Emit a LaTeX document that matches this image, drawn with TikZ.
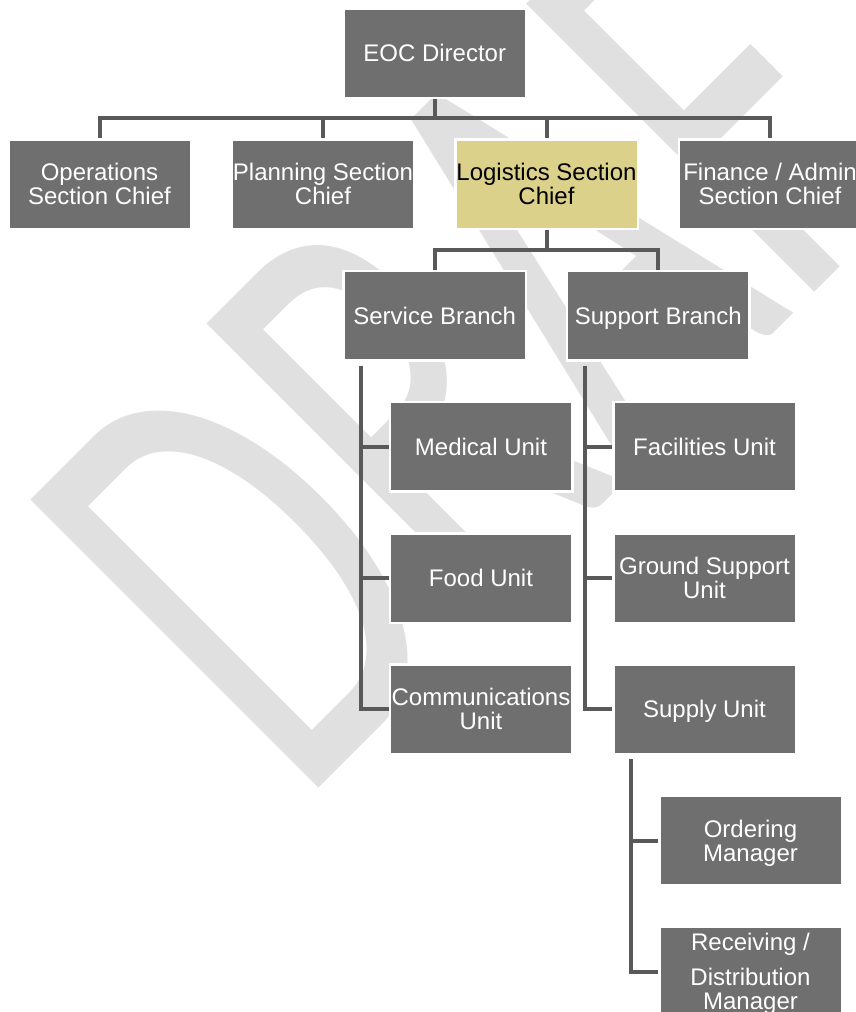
\documentclass[tikz,border=0pt]{standalone}
\usepackage{fontspec}
\setmainfont{Liberation Sans}
\newfontfamily\wmfont{Carlito}
\definecolor{boxgray}{RGB}{111,111,111}
\definecolor{linegray}{RGB}{89,89,89}
\definecolor{khaki}{RGB}{220,209,138}
\definecolor{wmgray}{RGB}{224,224,224}
\newcommand\vt{\rule{0pt}{22.7pt}}
\newcommand\vb{\rule[-5.5pt]{0pt}{5.5pt}}
\begin{document}
\begin{tikzpicture}[x=1pt,y=-1pt,
  unit/.style={draw=white, line width=2.5pt, fill=boxgray, text=white,
    minimum width=182.5pt, minimum height=89.5pt, inner sep=0pt,
    align=center, font=\fontsize{24}{24}\selectfont},
  hl/.style={unit, fill=khaki, text=black},
  conn/.style={draw=linegray, line width=4pt}]
\useasboundingbox (0,0) rectangle (855,1012);
% watermark
\node[anchor=base west, inner sep=0pt, rotate=45, yscale=1.572, text=wmgray,
  font=\wmfont\fontsize{404}{404}\selectfont] (wm) at (299,808) {DRAFT};
% boxes
\node[unit] (eoc) at (434.75,53) {\vt EOC Director\vb};
\node[unit] (ops) at (99.5,184.3) {\vt Operations\\Section Chief\vb};
\node[unit] (plan) at (323,184.3) {\vt Planning Section\\Chief\vb};
\node[hl] (log) at (546.5,184.3) {\vt Logistics Section\\Chief\vb};
\node[unit] (fin) at (770,184.3) {\vt Finance / Admin\\Section Chief\vb};
\node[unit] (svc) at (434.75,315.5) {\vt Service Branch\vb};
\node[unit] (sup) at (658.25,315.5) {\vt Support Branch\vb};
\node[unit] (med) at (481,446.75) {\vt Medical Unit\vb};
\node[unit] (food) at (481,578) {\vt Food Unit\vb};
\node[unit] (comm) at (481,709.25) {\vt Communications\\Unit\vb};
\node[unit] (fac) at (704.5,446.75) {\vt Facilities Unit\vb};
\node[unit] (gnd) at (704.5,578) {\vt Ground Support\\Unit\vb};
\node[unit] (supply) at (704.5,709.25) {\vt Supply Unit\vb};
\node[unit] (ord) at (750.5,840.5) {\vt Ordering\\Manager\vb};
\node[unit] (rcv) at (750.5,971.75) {\vt Receiving /\\[11pt]Distribution\\Manager\vb};
% connectors
\draw[conn] (eoc.south) -- ++(0,19) -| (ops.north);
\draw[conn] (eoc.south) -- ++(0,19) -| (plan.north);
\draw[conn] (eoc.south) -- ++(0,19) -| (log.north);
\draw[conn] (eoc.south) -- ++(0,19) -| (fin.north);
\draw[conn] (log.south) -- ++(0,20) -| (svc.north);
\draw[conn] (log.south) -- ++(0,20) -| (sup.north);
\draw[conn] (svc.south west) ++(18.75,4) |- (med.west);
\draw[conn] (svc.south west) ++(18.75,4) |- (food.west);
\draw[conn] (svc.south west) ++(18.75,4) |- (comm.west);
\draw[conn] (sup.south west) ++(18.75,4) |- (fac.west);
\draw[conn] (sup.south west) ++(18.75,4) |- (gnd.west);
\draw[conn] (sup.south west) ++(18.75,4) |- (supply.west);
\draw[conn] (supply.south west) ++(18.75,4) |- (ord.west);
\draw[conn] (supply.south west) ++(18.75,4) |- (rcv.west);
\end{tikzpicture}
\end{document}
